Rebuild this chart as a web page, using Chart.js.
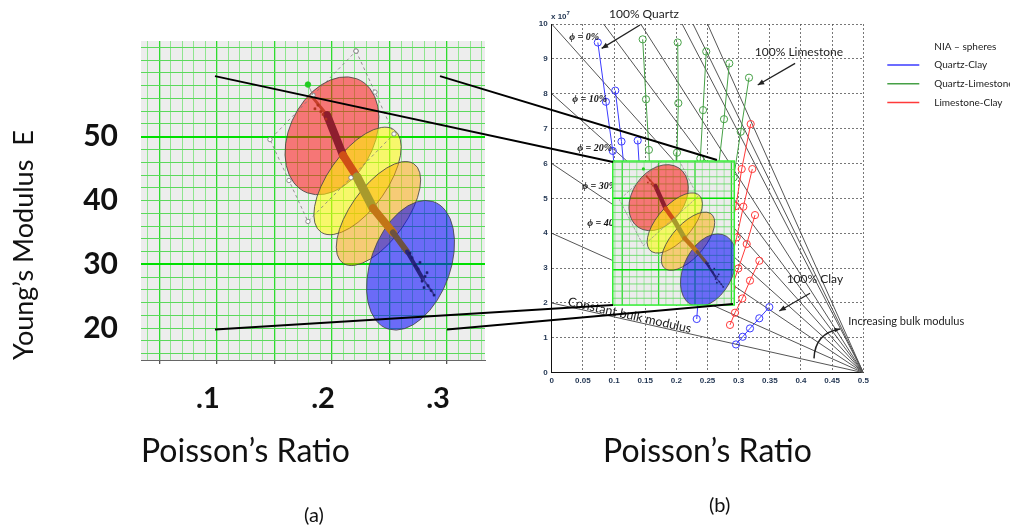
<!DOCTYPE html>
<html>
<head>
<meta charset="utf-8">
<title>Poisson's ratio vs Young's modulus</title>
<script src="https://cdn.jsdelivr.net/npm/chart.js@4.4.1/dist/chart.umd.min.js"></script>
<style>
  body { margin: 0; background: #fff; }
  #fig { position: relative; width: 1010px; height: 527px; overflow: hidden; font-family: Lato, "Open Sans", sans-serif; }
  #fig canvas { position: absolute; top: 0; }
  #chartA { left: 0; }
  #chartB { left: 510px; }
  #links { left: 0; pointer-events: none; }
  .panel { position: absolute; font-size: 20px; color: #111; }
  #exp { position: absolute; left: 551px; top: 10px; font: bold 8px "Liberation Sans", Arial, sans-serif; color: #1f3350; }
  #exp sup { font-size: 6px; }
</style>
</head>
<body>
<div id="fig">
  <canvas id="chartA" width="510" height="527"></canvas>
  <canvas id="chartB" width="500" height="527"></canvas>
  <canvas id="links" width="1010" height="527"></canvas>
  <div id="exp">x 10<sup>7</sup></div>
  <div class="panel" style="left:304px;top:502px">(a)</div>
  <div class="panel" style="left:709px;top:492px">(b)</div>
</div>
<script>
// ---- panel (a): Young's modulus vs Poisson's ratio, facies ellipses ----
const ellipseCenter = [[0.200, 50.15], [0.2222, 43.07], [0.2404, 37.96], [0.2683, 29.85]];
const ellipseMajor  = [[0.2215, 59.09], [0.2535, 51.15], [0.2708, 45.80], [0.2876, 39.85]];
const ellipseMinor  = [[0.2347, 47.80], [0.2437, 40.67], [0.2609, 35.72], [0.3013, 28.04]];

// well-log samples: centre line of the cloud plus loose samples at its ends
const cloudX = [0.1835, 0.1957, 0.2096, 0.2217, 0.2357, 0.2530, 0.2652, 0.2791, 0.2878];
const cloudY = [56.1, 53.4, 47.1, 43.7, 38.8, 35.0, 32.0, 27.7, 25.5];
const looseX = [0.1835, 0.1878, 0.1904, 0.1852, 0.1948, 0.1922,
                0.2696, 0.2748, 0.2765, 0.2809, 0.2835, 0.2861, 0.2722, 0.2783, 0.2826, 0.2887, 0.2678, 0.2800];
const looseY = [56.13, 54.96, 53.94, 54.38, 52.77, 53.50,
                31.02, 29.27, 30.29, 28.10, 26.64, 25.91, 29.85, 27.37, 28.69, 25.18, 31.75, 26.35];

const frameX = [0.2209, 0.2374, 0.2539, 0.2165, 0.1791, 0.1626, 0.1461, 0.1835, 0.2209];
const frameY = [63.43, 57.0, 50.44, 43.58, 36.72, 43.14, 49.56, 56.5, 63.43];
const handleX = [0.1835, 0.1791];
const handleY = [56.5, 58.18];

const labelsA_X = [0.1, 0.2, 0.3];
const labelsA_Y = [20, 30, 40, 50];

// ---- panel (b): NIA spheres model, E in units of 1e7 ----
const bulkIntercepts = [2, 4, 6, 8, 10, 12, 14, 17.2, 18.3, 20];

// each strand: one mineral mix, porosity rising from 0% (top point) in 10% steps
const quartzClay = [
  [[0.074, 9.47], [0.087, 7.77], [0.098, 6.36], [0.103, 5.3]],
  [[0.102, 8.09], [0.112, 6.63], [0.118, 5.5]],
  [[0.138, 6.66], [0.142, 5.5]],
  [[0.2327, 1.54], [0.236, 2.3]],
  [[0.3492, 1.88], [0.3331, 1.56], [0.3182, 1.27], [0.3065, 1.03], [0.2957, 0.81]]
];
const quartzLimestone = [
  [[0.146, 9.56], [0.1513, 7.84], [0.156, 6.39], [0.158, 5.3]],
  [[0.2022, 9.47], [0.2032, 7.73], [0.201, 6.31], [0.200, 5.3]],
  [[0.248, 9.21], [0.2428, 7.53], [0.2385, 6.14], [0.235, 5.1]],
  [[0.285, 8.87], [0.2765, 7.27], [0.268, 5.95]],
  [[0.3166, 8.46], [0.3033, 6.91], [0.292, 5.6]]
];
const limestoneClay = [
  [[0.3193, 7.13], [0.3049, 5.84], [0.2957, 4.78], [0.285, 3.9]],
  [[0.3219, 5.84], [0.3075, 4.76], [0.2968, 3.88], [0.287, 3.18]],
  [[0.3262, 4.52], [0.3129, 3.69], [0.2995, 2.99], [0.289, 2.45]],
  [[0.3332, 3.21], [0.3182, 2.64], [0.3059, 2.13], [0.2941, 1.72], [0.2861, 1.37]]
];

const phiLabels = ['ϕ = 0%', 'ϕ = 10%', 'ϕ = 20%', 'ϕ = 30%', 'ϕ = 40%'];
const phiAt = [[0.028, 9.62], [0.033, 7.84], [0.041, 6.42], [0.049, 5.33], [0.057, 4.29]];

const noteText = ['100% Quartz', '100% Limestone', '100% Clay', 'Increasing bulk modulus'];
const noteAt = [[0.092, 10.29], [0.326, 9.18], [0.377, 2.69], [0.476, 1.46]];
const arrowTail = [[0.1417, 9.97], [0.3906, 8.87], [0.4145, 2.28]];
const arrowTip  = [[0.0802, 9.30], [0.3306, 8.25], [0.3652, 1.77]];

// region of panel (a) that is repeated as the inset of panel (b)
const insetFrom = { x: [0.137, 0.304], y: [20.1, 60.4] };
const insetTo   = { x: [0.098, 0.293], y: [1.94, 6.07] };

// zoom lines between the panels
const linkFrom = [[0.0983, 59.5], [0.2939, 59.5], [0.0983, 19.8], [0.300, 19.8]];
const linkTo   = [[0.0984, 6.04], [0.2652, 6.10], [0.0984, 1.94], [0.2909, 1.97]];

// styles
const ellipseFill = ['rgba(255,0,0,0.5)', 'rgba(255,255,0,0.55)', 'rgba(255,170,0,0.5)', 'rgba(0,0,255,0.55)'];
const cloudColors = ['#c8402c', '#8e1e2e', '#cf4f16', '#a89a2c', '#c27516', '#6d5240', '#27247e', '#3a3a9c'];
const cloudWidths = [3, 8, 8, 9, 8, 6, 4, 2];
const looseColors = looseX.map((x, i) => i < 6 ? '#b3341f' : '#1f1f72');
const mixColors = { qc: '#3b3bff', ql: '#46a046', lc: '#ff3a3a' };

const pts = (xs, ys) => xs.map((x, i) => ({ x, y: ys[i] }));
const near = (list, v, eps) => list.some(t => Math.abs(t - v) < eps);

function gridColorX(v) { return Math.round(v * 100) % 5 === 0 ? '#2fdc2f' : '#8fe58f'; }
function gridColorY(v) { return (Math.round(v) === 30 || Math.round(v) === 50) ? '#00e000' : '#5cd95c'; }

function drawEllipses(ctx, toPx) {
  ellipseCenter.forEach((c, i) => {
    const p = toPx(c[0], c[1]);
    const a = toPx(ellipseMajor[i][0], ellipseMajor[i][1]);
    const b = toPx(ellipseMinor[i][0], ellipseMinor[i][1]);
    ctx.save();
    ctx.beginPath();
    ctx.transform(a.x - p.x, a.y - p.y, b.x - p.x, b.y - p.y, p.x, p.y);
    ctx.arc(0, 0, 1, 0, Math.PI * 2);
    ctx.restore();
    ctx.fillStyle = ellipseFill[i];
    ctx.fill();
    ctx.strokeStyle = 'rgba(70,70,70,0.85)';
    ctx.lineWidth = 1;
    ctx.stroke();
  });
}

const panelA = {
  id: 'panelA',
  beforeDraw(chart) {
    const { ctx, chartArea: a } = chart;
    ctx.save();
    ctx.fillStyle = '#ededed';
    ctx.fillRect(a.left, a.top, a.right - a.left, a.bottom - a.top);
    ctx.restore();
  },
  beforeDatasetsDraw(chart) {
    const xs = chart.scales.x, ys = chart.scales.y;
    chart.ctx.save();
    drawEllipses(chart.ctx, (x, y) => ({ x: xs.getPixelForValue(x), y: ys.getPixelForValue(y) }));
    chart.ctx.restore();
  }
};

const chartA = new Chart(document.getElementById('chartA'), {
  type: 'scatter',
  data: {
    datasets: [
      { label: 'handle', data: pts(handleX, handleY), showLine: true, borderColor: '#777', borderWidth: 0.8,
        pointRadius: [0, 2.8], pointBackgroundColor: '#22cc22', pointBorderColor: '#22cc22' },
      { label: 'selection', data: pts(frameX, frameY), showLine: true, borderColor: '#7a7a7a', borderWidth: 0.8,
        borderDash: [3, 3], pointRadius: 2.2, pointBackgroundColor: '#fff', pointBorderColor: '#777', pointBorderWidth: 0.8 },
      { label: 'loose samples', data: pts(looseX, looseY), pointStyle: 'rect', pointRadius: 1.5,
        pointBackgroundColor: looseColors, pointBorderColor: looseColors, pointBorderWidth: 0.5 },
      { label: 'samples', data: pts(cloudX, cloudY), showLine: true, pointRadius: 0,
        borderColor: cloudColors[1], borderWidth: 8, borderCapStyle: 'round', borderJoinStyle: 'round',
        segment: { borderColor: c => cloudColors[c.p0DataIndex], borderWidth: c => cloudWidths[c.p0DataIndex] } }
    ]
  },
  options: {
    responsive: false, animation: false, events: [],
    layout: { padding: { top: 18, right: 25, left: 0, bottom: 0 } },
    plugins: { legend: { display: false }, tooltip: { enabled: false } },
    scales: {
      x: {
        type: 'linear', min: 0.034, max: 0.333,
        afterFit: s => { s.height = 167; },
        ticks: {
          stepSize: 0.01, autoSkip: false, includeBounds: false, maxRotation: 0, padding: 17, labelOffset: -9,
          font: { family: 'Lato', size: 29, weight: 'bold' }, color: '#111',
          callback: v => near(labelsA_X, v, 1e-6) ? '.' + Math.round(v * 10) : ''
        },
        grid: {
          color: c => gridColorX(c.tick.value), lineWidth: c => Math.round(c.tick.value * 100) % 5 === 0 ? 1.3 : 1,
          tickLength: 4, tickColor: c => Math.round(c.tick.value * 100) % 5 === 0 ? '#555' : 'rgba(0,0,0,0)'
        },
        border: { display: true, color: '#666', width: 1 },
        title: { display: true, text: 'Poisson’s Ratio', align: 'start', color: '#111',
          font: { family: 'Lato', size: 32 }, padding: { top: 0, bottom: 56 } }
      },
      y: {
        type: 'linear', min: 15, max: 65.01,
        afterFit: s => { s.width = 141; },
        ticks: {
          stepSize: 2, autoSkip: false, includeBounds: false, padding: 23,
          font: { family: 'Lato', size: 30, weight: 'bold' }, color: '#111',
          callback: v => near(labelsA_Y, v, 1e-6) ? String(Math.round(v)) : ''
        },
        grid: {
          color: c => gridColorY(c.tick.value),
          lineWidth: c => near([30, 50], c.tick.value, 1e-6) ? 2 : 1, drawTicks: false
        },
        border: { display: false },
        title: { display: true, text: 'Young’s Modulus  E', align: 'start', color: '#111',
          font: { family: 'Lato', size: 27 }, padding: { top: 8, bottom: 0 } }
      }
    }
  },
  plugins: [panelA]
});

// ---- panel (b) ----
function insetMapper(chart) {
  const xs = chart.scales.x, ys = chart.scales.y;
  const fx = insetFrom.x, fy = insetFrom.y, tx = insetTo.x, ty = insetTo.y;
  return (x, y) => ({
    x: xs.getPixelForValue(tx[0] + (x - fx[0]) / (fx[1] - fx[0]) * (tx[1] - tx[0])),
    y: ys.getPixelForValue(ty[0] + (y - fy[0]) / (fy[1] - fy[0]) * (ty[1] - ty[0]))
  });
}

function drawInset(chart) {
  const ctx = chart.ctx;
  const toPx = insetMapper(chart);
  const p0 = toPx(insetFrom.x[0], insetFrom.y[0]);
  const p1 = toPx(insetFrom.x[1], insetFrom.y[1]);
  ctx.save();
  ctx.beginPath();
  ctx.rect(p0.x, p1.y, p1.x - p0.x, p0.y - p1.y);
  ctx.fillStyle = '#ececec';
  ctx.fill();
  ctx.clip();
  // grid of panel (a), shrunk
  for (let k = 14; k <= 30; k++) {
    const a = toPx(k / 100, insetFrom.y[0]), b = toPx(k / 100, insetFrom.y[1]);
    ctx.strokeStyle = gridColorX(k / 100);
    ctx.lineWidth = k % 5 === 0 ? 1.3 : 0.8;
    ctx.beginPath(); ctx.moveTo(a.x, a.y); ctx.lineTo(b.x, b.y); ctx.stroke();
  }
  for (let v = 22; v <= 60; v += 2) {
    const a = toPx(insetFrom.x[0], v), b = toPx(insetFrom.x[1], v);
    ctx.strokeStyle = gridColorY(v);
    ctx.lineWidth = (v === 30 || v === 50) ? 1.5 : 0.8;
    ctx.beginPath(); ctx.moveTo(a.x, a.y); ctx.lineTo(b.x, b.y); ctx.stroke();
  }
  drawEllipses(ctx, toPx);
  ctx.lineCap = 'round';
  for (let i = 0; i < cloudX.length - 1; i++) {
    const a = toPx(cloudX[i], cloudY[i]), b = toPx(cloudX[i + 1], cloudY[i + 1]);
    ctx.strokeStyle = cloudColors[i];
    ctx.lineWidth = cloudWidths[i] * 0.55;
    ctx.beginPath(); ctx.moveTo(a.x, a.y); ctx.lineTo(b.x, b.y); ctx.stroke();
  }
  looseX.forEach((x, i) => {
    const p = toPx(x, looseY[i]);
    ctx.fillStyle = looseColors[i];
    ctx.fillRect(p.x - 0.8, p.y - 0.8, 1.6, 1.6);
  });
  ctx.setLineDash([2, 2]);
  ctx.strokeStyle = '#888';
  ctx.lineWidth = 0.7;
  ctx.beginPath();
  frameX.forEach((x, i) => { const p = toPx(x, frameY[i]); i ? ctx.lineTo(p.x, p.y) : ctx.moveTo(p.x, p.y); });
  ctx.stroke();
  ctx.setLineDash([]);
  const h = toPx(handleX[1], handleY[1]);
  ctx.fillStyle = '#22cc22';
  ctx.beginPath(); ctx.arc(h.x, h.y, 1.6, 0, Math.PI * 2); ctx.fill();
  ctx.restore();
  ctx.save();
  ctx.strokeStyle = '#33ee33';
  ctx.lineWidth = 1.5;
  ctx.strokeRect(p0.x, p1.y, p1.x - p0.x, p0.y - p1.y);
  ctx.restore();
}

function arrowHead(ctx, from, to, size) {
  const ang = Math.atan2(to.y - from.y, to.x - from.x);
  ctx.beginPath();
  ctx.moveTo(to.x, to.y);
  ctx.lineTo(to.x - size * Math.cos(ang - 0.4), to.y - size * Math.sin(ang - 0.4));
  ctx.lineTo(to.x - size * Math.cos(ang + 0.4), to.y - size * Math.sin(ang + 0.4));
  ctx.closePath();
  ctx.fill();
}

const panelB = {
  id: 'panelB',
  afterDatasetsDraw(chart) {
    const { ctx, scales: { x: xs, y: ys } } = chart;
    const px = (p) => ({ x: xs.getPixelForValue(p[0]), y: ys.getPixelForValue(p[1]) });
    ctx.save();
    ctx.font = 'italic bold 10px "Liberation Serif", "DejaVu Serif", serif';
    ctx.fillStyle = '#111';
    ctx.textBaseline = 'middle';
    phiLabels.forEach((t, i) => { const p = px(phiAt[i]); ctx.fillText(t, p.x, p.y); });
    ctx.restore();
    drawInset(chart);
  },
  afterDraw(chart) {
    const { ctx, chartArea: area, scales: { x: xs, y: ys } } = chart;
    const px = (p) => ({ x: xs.getPixelForValue(p[0]), y: ys.getPixelForValue(p[1]) });
    ctx.save();
    ctx.fillStyle = '#222';
    ctx.strokeStyle = '#222';
    ctx.lineWidth = 1.3;
    ctx.textBaseline = 'middle';
    noteText.forEach((t, i) => {
      const p = px(noteAt[i]);
      ctx.font = (i === 3 ? '11px' : '12px') + ' Lato, "Open Sans", sans-serif';
      ctx.fillText(t, p.x, p.y);
    });
    arrowTail.forEach((t, i) => {
      const a = px(t), b = px(arrowTip[i]);
      ctx.beginPath(); ctx.moveTo(a.x, a.y); ctx.lineTo(b.x, b.y); ctx.stroke();
      arrowHead(ctx, a, b, 7);
    });
    // curved arrow under "Increasing bulk modulus"
    const c0 = px([0.4209, 0.41]), c1 = px([0.4225, 1.13]), c2 = px([0.4626, 1.25]);
    ctx.lineWidth = 1.5;
    ctx.beginPath(); ctx.moveTo(c0.x, c0.y); ctx.quadraticCurveTo(c1.x, c1.y, c2.x, c2.y); ctx.stroke();
    arrowHead(ctx, c1, c2, 6);
    // text along the lowest constant-K line
    const l0 = px([0, bulkIntercepts[0]]), l1 = px([0.5, 0]);
    const ang = Math.atan2(l1.y - l0.y, l1.x - l0.x);
    const s = px([0.0246, bulkIntercepts[0] * (1 - 2 * 0.0246)]);
    ctx.translate(s.x, s.y);
    ctx.rotate(ang);
    ctx.font = '12.5px Lato, "Open Sans", sans-serif';
    ctx.textBaseline = 'alphabetic';
    ctx.fillStyle = '#222';
    ctx.fillText('Constant bulk modulus', 0, -1);
    ctx.restore();

    // legend
    ctx.save();
    const lx = area.right;
    ctx.font = '10px Lato, "Open Sans", sans-serif';
    ctx.textBaseline = 'middle';
    ctx.fillStyle = '#222';
    ctx.fillText('NIA – spheres', lx + 71, 47);
    chart.data.datasets.filter(d => d.legendEntry).forEach((d, i) => {
      const y = 65 + i * 18.8;
      ctx.strokeStyle = d.borderColor;
      ctx.lineWidth = 1.5;
      ctx.beginPath(); ctx.moveTo(lx + 24, y); ctx.lineTo(lx + 56, y); ctx.stroke();
      ctx.fillText(d.label, lx + 71, y);
    });
    ctx.restore();
  }
};

function strandSets(list, label, color) {
  return list.map((line, i) => ({
    label, legendEntry: i === 0,
    data: line.map(p => ({ x: p[0], y: p[1] })),
    showLine: true, borderColor: color, borderWidth: 1,
    pointRadius: 3.6, pointStyle: 'circle', pointBackgroundColor: 'rgba(0,0,0,0)',
    pointBorderColor: color, pointBorderWidth: 1
  }));
}

const fanSets = bulkIntercepts.map(c => ({
  label: 'K', data: [{ x: 0, y: c }, { x: 0.5, y: 0 }], showLine: true,
  borderColor: '#555', borderWidth: 1, pointRadius: 0
}));

const chartB = new Chart(document.getElementById('chartB'), {
  type: 'scatter',
  data: {
    datasets: [
      ...strandSets(quartzClay, 'Quartz-Clay', mixColors.qc),
      ...strandSets(quartzLimestone, 'Quartz-Limestone', mixColors.ql),
      ...strandSets(limestoneClay, 'Limestone-Clay', mixColors.lc),
      ...fanSets
    ]
  },
  options: {
    responsive: false, animation: false, events: [],
    layout: { padding: { top: 24, right: 146.7, left: 0, bottom: 0 } },
    plugins: { legend: { display: false }, tooltip: { enabled: false } },
    scales: {
      x: {
        type: 'linear', min: 0, max: 0.5,
        afterFit: s => { s.height = 154.3; },
        ticks: { stepSize: 0.05, autoSkip: false, maxRotation: 0, padding: 3,
          font: { family: '"Liberation Sans"', size: 8, weight: 'bold' }, color: '#1f3350',
          callback: v => String(+v.toFixed(2)) },
        grid: { color: '#555', lineWidth: 0.8, drawTicks: false },
        border: { display: true, color: '#111', width: 1, dash: [2, 2] },
        title: { display: true, text: 'Poisson’s Ratio', color: '#111',
          font: { family: 'Lato', size: 32 }, padding: { top: 0, bottom: 56 } }
      },
      y: {
        type: 'linear', min: 0, max: 10,
        afterFit: s => { s.width = 41.7; },
        ticks: { stepSize: 1, autoSkip: false, padding: 4,
          font: { family: '"Liberation Sans"', size: 8, weight: 'bold' }, color: '#1f3350' },
        grid: { color: '#555', lineWidth: 0.8, drawTicks: false },
        border: { display: true, color: '#111', width: 1, dash: [2, 2] }
      }
    }
  },
  plugins: [panelB]
});

// ---- zoom lines from panel (a) to the inset of panel (b) ----
(function drawLinks() {
  const ctx = document.getElementById('links').getContext('2d');
  const offB = 510;
  ctx.strokeStyle = '#000';
  ctx.lineWidth = 2;
  linkFrom.forEach((p, i) => {
    const q = linkTo[i];
    ctx.beginPath();
    ctx.moveTo(chartA.scales.x.getPixelForValue(p[0]), chartA.scales.y.getPixelForValue(p[1]));
    ctx.lineTo(offB + chartB.scales.x.getPixelForValue(q[0]), chartB.scales.y.getPixelForValue(q[1]));
    ctx.stroke();
  });
})();
</script>
</body>
</html>
